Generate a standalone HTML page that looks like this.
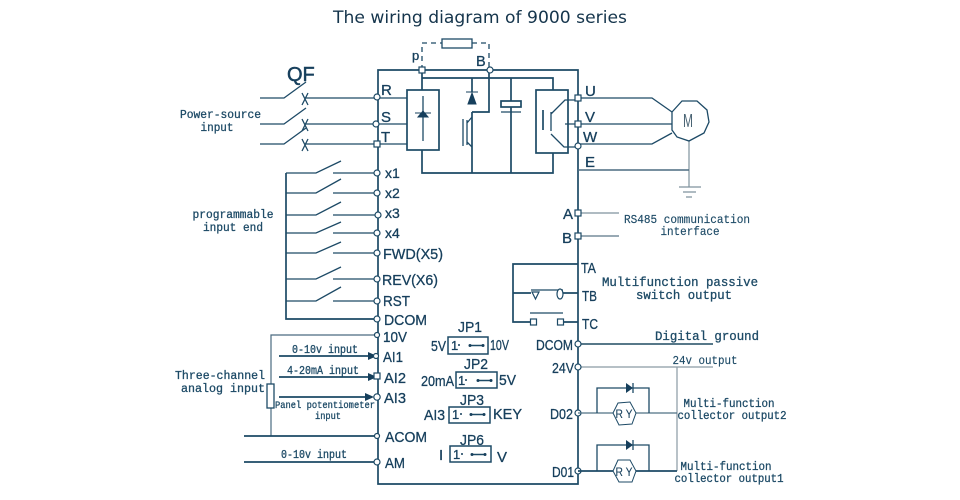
<!DOCTYPE html>
<html><head><meta charset="utf-8"><style>
html,body{margin:0;padding:0;background:#fff;width:960px;height:500px;overflow:hidden}
svg{display:block;filter:blur(.35px)}
.l{fill:none;stroke:#1d4a66;stroke-width:1.3}
.t{fill:none;stroke:#1d4a66;stroke-width:1.7}
.g{fill:none;stroke:#7f929e;stroke-width:1.2}
.n{fill:#fff;stroke:#1d4a66;stroke-width:1.2}
.s{font-family:"Liberation Sans",sans-serif;fill:#163f5c;stroke:#163f5c;stroke-width:.3;font-size:15px}
.m{font-family:"Liberation Mono",monospace;fill:#1d4a66;stroke:#1d4a66;stroke-width:.3;font-size:12px}
.e{text-anchor:end}.c{text-anchor:middle}
</style></head><body>
<svg width="960" height="500" viewBox="0 0 960 500" xmlns="http://www.w3.org/2000/svg">
<rect width="960" height="500" fill="#fff"/>
<text x="333" y="23" textLength="294" lengthAdjust="spacingAndGlyphs" style="font-family:'DejaVu Sans',sans-serif;font-size:17px;fill:#15354c">The wiring diagram of 9000 series</text>

<!-- main frame -->
<path class="t" d="M378 70H578V484H378Z"/>
<!-- braking resistor -->
<path class="l" d="M422 70V43H442M472 43H489V70" stroke-dasharray="5 4"/>
<rect class="l" x="442" y="39" width="30" height="9"/>
<text class="s" x="412" y="60" style="font-size:13px">p</text>
<text class="s" x="476" y="66" style="font-size:14.500px">B</text>
<!-- DC bus -->
<path class="t" d="M422 70V90M422 78H553V90M422 150V173H553V153M511 78V101M511 107V173M472 78V92M472 112V173M489 70V112H472"/>
<rect class="t" x="407" y="90" width="32" height="60"/>
<path class="l" d="M423 96V141"/>
<path d="M415 113H431M418 117H428L423 111Z" fill="#163f5c" stroke="#163f5c"/>
<rect class="t" x="501" y="101" width="20" height="6"/>
<path class="l" d="M501 112H521"/>
<path d="M466 92H478M472 93L468 104H476Z" fill="#163f5c" stroke="#163f5c" stroke-width="1"/>
<path class="l" d="M463 119V146M467 120V145M467 123L472 117M467 142L472 147"/>
<rect class="t" x="536" y="90" width="32" height="63"/>
<path class="t" d="M543 110V130"/>
<path class="l" d="M551 112V131M551 114L565 100H578M551 134L564 147H578M565 124H578"/>
<circle class="n" cx="490" cy="70" r="3"/><rect class="n" x="419" y="67" width="6" height="6"/>
<!-- input lines -->
<path class="l" d="M260 98H284L306 82M260 124H284L306 108M260 144H284L306 128"/>
<path class="l" d="M302 93L308 105M308 93L302 105M302 119L308 131M308 119L302 131M302 139L308 151M308 139L302 151"/>
<path class="l" d="M305 98H407M305 124H407M305 144H407"/>
<circle class="n" cx="377" cy="97" r="3"/><circle class="n" cx="376" cy="124" r="3"/><rect class="n" x="374" y="141" width="6" height="6"/>
<text class="s" x="287" y="81" style="font-size:20px;stroke-width:.5">QF</text>
<text class="s" x="381" y="95">R</text>
<text class="s" x="381" y="122">S</text>
<text class="s" x="381" y="142">T</text>
<text class="m c" x="220.500" y="118" textLength="81" lengthAdjust="spacingAndGlyphs">Power-source</text>
<text class="m c" x="217" y="131" textLength="33" lengthAdjust="spacingAndGlyphs">input</text>
<!-- right U V W -->
<path class="l" d="M578 98H652L672 112M578 124H672M578 144H652L672 133"/>
<path class="g" d="M578 170H689M689 141V187M679 187H701M683 192H696M686 197H692"/>
<path class="t" d="M578 170H689" stroke-opacity=".45"/>
<polygon class="l" points="672,112 682,101 697,101 707,110 709,122 704,133 689,141 677,137 672,130"/>
<text x="688" y="127" text-anchor="middle" textLength="10" lengthAdjust="spacingAndGlyphs" style="font-family:'Liberation Sans',sans-serif;font-size:18px;fill:#4a6474">M</text>
<rect class="n" x="575" y="95" width="6" height="6"/><rect class="n" x="575" y="121" width="6" height="6"/><circle class="n" cx="578" cy="146" r="3"/>
<text class="s" x="585" y="96">U</text>
<text class="s" x="585" y="122">V</text>
<text class="s" x="583" y="142">W</text>
<text class="s" x="585" y="167">E</text>
<!-- digital inputs -->
<path class="t" d="M286 173V319H378"/>
<path class="l" d="M286 173H316L341 161M333 173H378M286 193H316L341 179M333 193H378M286 215H316L341 202M333 215H378M286 233H316L341 222M333 233H378M286 253H316L341 242M333 253H378M286 279H316L341 267M333 279H378M286 301H316L341 287M333 301H378"/>
<g class="n"><circle cx="377" cy="173" r="3"/><circle cx="377" cy="193" r="3"/><circle cx="378" cy="215" r="3"/><circle cx="377" cy="233" r="3"/><circle cx="377" cy="253" r="3"/><circle cx="377" cy="279" r="3"/><circle cx="377" cy="301" r="3"/><circle cx="377" cy="319" r="3"/></g>
<text class="s" x="385" y="178" style="font-size:14px">x1</text>
<text class="s" x="385" y="198" style="font-size:14px">x2</text>
<text class="s" x="385" y="218" style="font-size:14px">x3</text>
<text class="s" x="385" y="238" style="font-size:14px">x4</text>
<text class="s" x="383" y="259" textLength="60" lengthAdjust="spacingAndGlyphs">FWD(X5)</text>
<text class="s" x="382" y="285" textLength="56" lengthAdjust="spacingAndGlyphs">REV(X6)</text>
<text class="s" x="383" y="306" textLength="27" lengthAdjust="spacingAndGlyphs">RST</text>
<text class="s" x="384" y="325" textLength="43" lengthAdjust="spacingAndGlyphs">DCOM</text>
<text class="m c" x="233" y="218" textLength="81" lengthAdjust="spacingAndGlyphs">programmable</text>
<text class="m c" x="233" y="231" textLength="60" lengthAdjust="spacingAndGlyphs">input end</text>
<!-- analog -->
<path class="g" d="M271 384V335H376" style="stroke:#4a6a80"/>
<path class="g" d="M271 408V436" style="stroke:#4a6a80"/>
<rect class="l" x="267" y="384" width="7" height="24" fill="#fff"/>
<path class="t" d="M279 356H372M279 377H372M279 397H370M244 436H376M244 462H376"/>
<path d="M368 352L377 356L368 360ZM368 373L377 377L368 381ZM365 393L374 397L365 401Z" fill="#163f5c"/>
<g class="n"><circle cx="377" cy="335" r="2.500"/><circle cx="376" cy="356" r="2.500"/><rect x="374" y="373" width="6" height="6"/><circle cx="377" cy="397" r="3.200"/><circle cx="377" cy="436" r="2.500"/><circle cx="377" cy="462" r="3"/></g>
<text class="s" x="383" y="342" textLength="24" lengthAdjust="spacingAndGlyphs">10V</text>
<text class="s" x="383" y="362" textLength="20" lengthAdjust="spacingAndGlyphs">AI1</text>
<text class="s" x="384" y="383" textLength="22" lengthAdjust="spacingAndGlyphs">AI2</text>
<text class="s" x="384" y="403" textLength="22" lengthAdjust="spacingAndGlyphs">AI3</text>
<text class="s" x="385" y="442" textLength="42" lengthAdjust="spacingAndGlyphs">ACOM</text>
<text class="s" x="385" y="468" textLength="20" lengthAdjust="spacingAndGlyphs">AM</text>
<text class="m c" x="325" y="353" textLength="66" lengthAdjust="spacingAndGlyphs" style="font-size:11.500px">0-10v input</text>
<text class="m c" x="323" y="374" textLength="72" lengthAdjust="spacingAndGlyphs" style="font-size:11.500px">4-20mA input</text>
<text class="m c" x="325" y="408" textLength="100" lengthAdjust="spacingAndGlyphs" style="font-size:10.500px">Panel potentiometer</text>
<text class="m c" x="328" y="419" textLength="26" lengthAdjust="spacingAndGlyphs" style="font-size:10.500px">input</text>
<text class="m c" x="314" y="458" textLength="66" lengthAdjust="spacingAndGlyphs" style="font-size:11.500px">0-10v input</text>
<text class="m c" x="220" y="379" textLength="90" lengthAdjust="spacingAndGlyphs">Three-channel</text>
<text class="m c" x="223" y="392" textLength="84" lengthAdjust="spacingAndGlyphs">analog input</text>
<!-- jumpers -->
<g class="l" style="stroke-width:1.500">
<rect x="448" y="337" width="40" height="17"/><rect x="456" y="372" width="41" height="16"/><rect x="449" y="407" width="41" height="16"/><rect x="450" y="446" width="41" height="16"/>
</g>
<path class="l" style="stroke-width:1.600" d="M470 345.500H483M478 380.500H491M471 414.500H484M472 454.500H485"/>
<g fill="#163f5c"><circle cx="470" cy="345.500" r="1.500"/><circle cx="483" cy="345.500" r="1.500"/><circle cx="478" cy="380.500" r="1.500"/><circle cx="491" cy="380.500" r="1.500"/><circle cx="471" cy="414.500" r="1.500"/><circle cx="484" cy="414.500" r="1.500"/><circle cx="472" cy="454.500" r="1.500"/><circle cx="485" cy="454.500" r="1.500"/><circle cx="459" cy="345" r="1"/><circle cx="466" cy="380" r="1"/><circle cx="461" cy="414" r="1"/><circle cx="462" cy="454" r="1"/></g>
<g>
<text class="s" x="451" y="350" style="font-size:13px">1</text><text class="s" x="458" y="385" style="font-size:13px">1</text><text class="s" x="452" y="419" style="font-size:13px">1</text><text class="s" x="453" y="459" style="font-size:13px">1</text>
</g>
<text class="s c" x="470" y="332" textLength="24" lengthAdjust="spacingAndGlyphs">JP1</text>
<text class="s c" x="476" y="369" textLength="24" lengthAdjust="spacingAndGlyphs">JP2</text>
<text class="s c" x="472" y="405" textLength="24" lengthAdjust="spacingAndGlyphs">JP3</text>
<text class="s c" x="472" y="445" textLength="24" lengthAdjust="spacingAndGlyphs">JP6</text>
<text class="s e" x="446" y="351" textLength="15" lengthAdjust="spacingAndGlyphs">5V</text>
<text class="s" x="490" y="350" textLength="19" lengthAdjust="spacingAndGlyphs">10V</text>
<text class="s e" x="454" y="386" textLength="33" lengthAdjust="spacingAndGlyphs">20mA</text>
<text class="s" x="499" y="385" textLength="17" lengthAdjust="spacingAndGlyphs">5V</text>
<text class="s e" x="445" y="420" textLength="21" lengthAdjust="spacingAndGlyphs">AI3</text>
<text class="s" x="493" y="419" textLength="29" lengthAdjust="spacingAndGlyphs">KEY</text>
<text class="s" x="439" y="460">I</text>
<text class="s" x="497" y="462">V</text>
<!-- RS485 -->
<path class="g" d="M578 213H619"/><path class="l" d="M578 236H619" style="stroke:#5a7686"/>
<rect class="n" x="575" y="210" width="6" height="6"/><rect class="n" x="575" y="233" width="6" height="6"/>
<text class="s e" x="573" y="219">A</text>
<text class="s e" x="572" y="243">B</text>
<text class="m c" x="687" y="223" textLength="126" lengthAdjust="spacingAndGlyphs" style="stroke-width:.15">RS485 communication</text>
<text class="m c" x="690" y="235" textLength="59" lengthAdjust="spacingAndGlyphs" style="stroke-width:.15">interface</text>
<!-- relay -->
<path class="t" d="M578 264H513V322H531M563 322H578M513 293H531M563 293H578"/>
<path class="t" d="M531 290H563" style="stroke-width:1.200"/>
<path class="n" d="M532 292H539L535.500 299Z"/><ellipse class="n" cx="560" cy="294" rx="3" ry="5"/>
<path class="l" d="M530 313H563"/>
<rect class="n" x="530.500" y="319" width="6" height="6"/><rect class="n" x="557.500" y="319" width="6" height="6"/>
<text class="s" x="581" y="273" textLength="15" lengthAdjust="spacingAndGlyphs">TA</text>
<text class="s" x="582" y="301" textLength="15" lengthAdjust="spacingAndGlyphs">TB</text>
<text class="s" x="582" y="329" textLength="16" lengthAdjust="spacingAndGlyphs">TC</text>
<text class="m c" x="680" y="286" textLength="156" lengthAdjust="spacingAndGlyphs" style="font-size:13px">Multifunction passive</text>
<text class="m c" x="684" y="299" textLength="96" lengthAdjust="spacingAndGlyphs" style="font-size:13px">switch output</text>
<!-- outputs -->
<path class="t" d="M578 344H713" style="stroke:#3f6478"/>
<path class="g" d="M578 367H713M677 367V471" style="stroke:#8a9aa4"/>
<text class="m c" x="707" y="340" textLength="104" lengthAdjust="spacingAndGlyphs" style="font-size:13px">Digital ground</text>
<text class="m c" x="705" y="364" textLength="65" lengthAdjust="spacingAndGlyphs" style="stroke-width:.15">24v output</text>
<circle class="n" cx="578" cy="344" r="3"/><circle class="n" cx="578" cy="367" r="3"/><circle class="n" cx="578" cy="413" r="3"/><circle class="n" cx="578" cy="471" r="3"/>
<text class="s e" x="573" y="350" textLength="37" lengthAdjust="spacingAndGlyphs">DCOM</text>
<text class="s e" x="574" y="373" textLength="22" lengthAdjust="spacingAndGlyphs">24V</text>
<text class="s e" x="573" y="419" textLength="23" lengthAdjust="spacingAndGlyphs">D02</text>
<text class="s e" x="574" y="477" textLength="22" lengthAdjust="spacingAndGlyphs">D01</text>
<path class="g" d="M578 413H677" style="stroke:#4f7084"/>
<path class="l" d="M597 413V388H649V413"/>
<path class="t" d="M578 471H677"/>
<path class="l" d="M597 471V445H649V471"/>
<path d="M626 383L626 393L633 388ZM626 440L626 450L633 445Z" fill="#163f5c"/>
<path class="l" d="M633 383V393M633 440V450"/>
<polygon class="n" points="613,413 618,403 630,402 636,413 632,424 619,425" style="stroke-width:1"/>
<polygon class="n" points="613,471 618,460 630,460 636,471 632,482 619,482" style="stroke-width:1"/>
<text class="s c" x="624" y="418" textLength="17" lengthAdjust="spacingAndGlyphs" style="font-size:12px;stroke-width:.1">R Y</text>
<text class="s c" x="624" y="476" textLength="17" lengthAdjust="spacingAndGlyphs" style="font-size:12px;stroke-width:.1">R Y</text>
<text class="m c" x="729" y="407" textLength="91" lengthAdjust="spacingAndGlyphs">Multi-function</text>
<text class="m c" x="732" y="419" textLength="109" lengthAdjust="spacingAndGlyphs">collector output2</text>
<text class="m c" x="726" y="470" textLength="91" lengthAdjust="spacingAndGlyphs">Multi-function</text>
<text class="m c" x="729" y="482" textLength="109" lengthAdjust="spacingAndGlyphs">collector output1</text>
</svg>
</body></html>
